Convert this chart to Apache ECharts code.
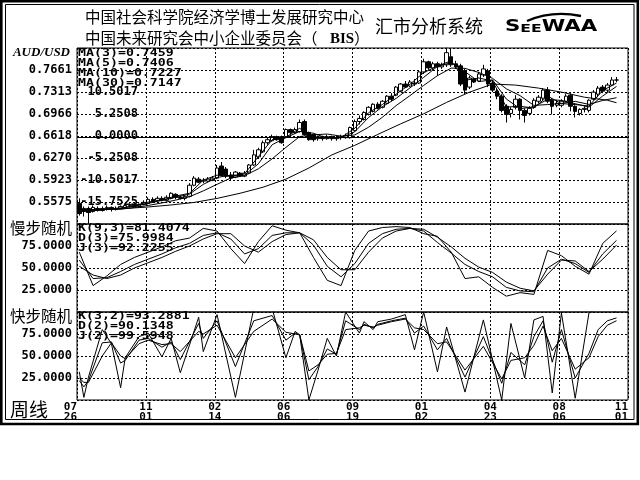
<!DOCTYPE html>
<html><head><meta charset="utf-8">
<script src="https://cdn.jsdelivr.net/npm/echarts@6/dist/echarts.min.js"></script>
<style>html,body{margin:0;padding:0;background:#fff}#c{width:640px;height:480px}</style>
</head><body><div id="c"></div>
<script>
// ---- tick labels ----
const dateLabels = ['07\n26','11\n01','02\n14','06\n06','09\n19','01\n02','04\n23','08\n06','11\n01'];
const priceTickLabels = ['0.5575','0.5923','0.6270','0.6618','0.6966','0.7313','0.7661'];
const pctTickLabels = ['-15.7525','-10.5017','-5.2508','0.0000','5.2508','10.5017'];
const refLevel = 0.6618;
const maTexts = ['MA(3)=0.7459','MA(5)=0.7406','MA(10)=0.7227','MA(30)=0.7147'];
const slowTexts = ['K(9,3)=81.4074','D(3)=75.9984','J(3)=92.2255'];
const fastTexts = ['K(3,2)=93.2881','D(2)=90.1348','J(2)=99.5948'];

// ---- weekly candles (AUD/USD) ----
const open = [.5553,.5424,.5473,.5424,.5473,.5440,.5473,.5489,.5456,.5473,
.5489,.5521,.5537,.5505,.5537,.5553,.5617,.5601,.5633,.5601,
.5633,.5697,.5649,.5633,.5665,.5841,.5937,.5905,.5905,.5921,
.5953,.6145,.6097,.6001,.5969,.6033,.5985,.6033,.6161,.6290,
.6370,.6514,.6546,.6610,.6610,.6610,.6722,.6674,.6690,.6850,
.6674,.6642,.6578,.6610,.6578,.6610,.6578,.6594,.6594,.6594,
.6706,.6850,.6882,.6962,.7010,.7123,.7075,.7139,.7251,.7267,
.7331,.7443,.7411,.7459,.7459,.7635,.7796,.7699,.7764,.7715,
.7748,.7876,.7764,.7731,.7651,.7395,.7523,.7491,.7587,.7651,
.7459,.7331,.7251,.7091,.6978,.7075,.7203,.7026,.6978,.7075,
.7171,.7219,.7347,.7187,.7107,.7107,.7171,.7267,.7091,.6978,
.7042,.7026,.7203,.7283,.7395,.7347,.7427,.7507];
const close = [.5392,.5473,.5408,.5489,.5440,.5473,.5489,.5456,.5473,.5505,
.5521,.5537,.5505,.5537,.5569,.5617,.5585,.5633,.5601,.5649,
.5713,.5649,.5633,.5665,.5841,.5953,.5889,.5921,.5937,.5953,
.6113,.6001,.5985,.5953,.6049,.5985,.6033,.6161,.6322,.6402,
.6514,.6562,.6610,.6562,.6514,.6722,.6674,.6722,.6834,.6642,
.6562,.6562,.6610,.6578,.6610,.6578,.6594,.6610,.6626,.6754,
.6850,.6898,.6994,.7075,.7123,.7058,.7171,.7251,.7203,.7395,
.7443,.7395,.7475,.7443,.7635,.7796,.7699,.7764,.7715,.7748,
.7940,.7748,.7715,.7443,.7347,.7539,.7475,.7603,.7683,.7443,
.7347,.7251,.7026,.6962,.7042,.7203,.7026,.6946,.7058,.7187,
.7235,.7347,.7171,.7091,.7139,.7171,.7251,.7091,.7010,.7042,
.7058,.7187,.7315,.7379,.7331,.7427,.7507,.7507];
const low = [.5360,.5344,.5232,.5408,.5424,.5424,.5440,.5424,.5440,.5456,
.5473,.5489,.5489,.5489,.5521,.5537,.5569,.5585,.5585,.5585,
.5617,.5617,.5617,.5601,.5649,.5825,.5873,.5873,.5889,.5905,
.5937,.5985,.5953,.5921,.5953,.5969,.5969,.6017,.6145,.6274,
.6354,.6482,.6530,.6546,.6498,.6594,.6642,.6658,.6674,.6626,
.6546,.6530,.6546,.6546,.6562,.6546,.6546,.6562,.6578,.6578,
.6690,.6802,.6866,.6946,.6994,.7042,.7058,.7123,.7171,.7251,
.7315,.7379,.7395,.7411,.7443,.7603,.7667,.7667,.7571,.7683,
.7715,.7715,.7683,.7411,.7283,.7363,.7459,.7475,.7555,.7395,
.7315,.7203,.6994,.6834,.6914,.7042,.6882,.6834,.6946,.7058,
.7139,.7187,.7139,.6962,.7075,.7075,.7155,.7010,.6914,.6946,
.6994,.6994,.7187,.7235,.7299,.7315,.7411,.7475];
const high = [.5633,.5505,.5505,.5521,.5505,.5505,.5521,.5505,.5505,.5521,
.5537,.5553,.5553,.5553,.5601,.5649,.5649,.5665,.5665,.5681,
.5729,.5713,.5681,.5681,.5873,.5985,.5969,.5953,.5969,.5985,
.6161,.6209,.6129,.6049,.6065,.6049,.6065,.6177,.6402,.6434,
.6546,.6594,.6642,.6626,.6626,.6738,.6738,.6754,.6882,.6882,
.6690,.6658,.6626,.6626,.6642,.6626,.6626,.6642,.6658,.6770,
.6882,.6946,.7010,.7091,.7139,.7155,.7187,.7267,.7299,.7411,
.7459,.7491,.7507,.7523,.7651,.7844,.7812,.7796,.7796,.7780,
.8020,.8004,.7812,.7764,.7683,.7571,.7539,.7635,.7748,.7683,
.7507,.7363,.7283,.7123,.7075,.7267,.7219,.7058,.7091,.7219,
.7267,.7379,.7395,.7219,.7187,.7203,.7283,.7299,.7107,.7058,
.7091,.7203,.7347,.7411,.7427,.7459,.7555,.7555];

// ---- moving averages (read every 3rd week; MA30 every 5th) ----
const idx3 = [0,3,6,9,12,15,18,21,24,27,30,33,36,39,42,45,48,51,54,57,60,63,66,69,72,75,78,81,84,87,90,93,96,99,102,105,108,111,114,117];
const ma3 = [.5424,.5456,.5467,.5477,.5520,.5573,.5605,.5669,.5713,.5921,.6001,.5980,.6022,.6294,.6562,.6599,.6743,.6589,.6599,.6594,.6743,.6990,.7118,.7283,.7438,.7624,.7727,.7812,.7502,.7539,.7491,.7079,.7091,.7063,.7251,.7134,.7118,.7095,.7342,.7459];
const ma5 = [.5424,.5440,.5459,.5479,.5507,.5553,.5601,.5649,.5700,.5854,.5963,.6001,.6001,.6180,.6482,.6594,.6693,.6664,.6584,.6594,.6687,.6914,.7084,.7216,.7382,.7549,.7722,.7783,.7639,.7482,.7510,.7206,.7052,.7084,.7200,.7184,.7132,.7078,.7254,.7406];
const ma10 = [.5456,.5456,.5456,.5460,.5488,.5520,.5560,.5605,.5658,.5751,.5855,.5955,.5993,.6100,.6259,.6440,.6611,.6640,.6651,.6618,.6637,.6759,.6916,.7102,.7259,.7421,.7576,.7696,.7691,.7627,.7534,.7368,.7259,.7105,.7118,.7137,.7169,.7121,.7183,.7227];
const idx5 = [0,5,10,15,20,25,30,35,40,45,50,55,60,65,70,75,80,85,90,95,100,105,110,115,117];
const ma30 = [.5440,.5456,.5472,.5496,.5528,.5568,.5632,.5713,.5809,.5937,.6113,.6321,.6472,.6645,.6813,.6972,.7153,.7315,.7443,.7427,.7379,.7315,.7235,.7187,.7147];

// ---- slow stochastic (every 3rd week) ----
const slowK = [59,38,39,46,54,60,66,73,78,87,90,83,66,72,87,90,90,76,52,40,55,78,89,94,95,92,79,67,54,46,40,28,24,23,50,60,55,45,66,81.4];
const slowD = [52,42,38,42,50,56,62,69,75,83,89,89,75,68,80,88,90,82,62,48,48,68,84,92,95,94,85,74,61,51,45,34,27,24,43,59,58,46,60,76.0];
const slowJ = [68,30,41,54,62,68,74,81,84,95,92,72,55,80,98,93,90,62,36,30,70,92,96,97,96,89,86,68,38,40,28,18,22,20,70,64,52,43,78,92.2];

// ---- fast stochastic (week, value) turning points ----
const fastK = [[0,22],[1,15],[2,22],[5,65],[7,66],[9,42],[10,45],[13,68],[15,70],[18,60],[20,66],[22,46],[26,87],[27,70],[30,90],[34,38],[38,90],[42,96],[45,68],[47,76],[48,74],[50,23],[52,38],[54,58],[56,52],[58,90],[61,80],[62,86],[64,82],[65,86],[68,90],[71,93],[73,76],[75,84],[78,57],[80,70],[84,26],[88,72],[92,19],[94,54],[97,40],[99,72],[101,90],[103,43],[105,80],[108,25],[111,53],[113,80],[115,90],[117,93.3]];
const fastD = [[0,25],[1,20],[2,20],[5,50],[7,65],[9,50],[10,47],[13,64],[15,68],[18,63],[20,64],[22,55],[26,78],[27,75],[30,85],[34,48],[38,78],[42,92],[45,77],[47,75],[48,74],[50,33],[52,40],[54,52],[56,53],[58,80],[61,82],[62,85],[64,83],[65,85],[68,89],[71,92],[73,82],[75,80],[78,64],[80,66],[84,34],[88,61],[92,24],[94,45],[97,48],[99,62],[101,84],[103,56],[105,70],[108,35],[111,48],[113,72],[115,85],[117,90.1]];
const fastJ = [[0,32],[1,3],[2,26],[5,80],[7,64],[9,14],[10,48],[13,72],[15,76],[18,49],[20,70],[22,31],[26,94],[27,55],[30,97],[34,3],[38,104],[42,104],[45,48],[47,78],[48,74],[50,0],[52,34],[54,70],[56,50],[58,100],[61,76],[62,89],[64,80],[65,89],[68,92],[71,97],[73,57],[75,100],[78,32],[80,83],[84,9],[88,91],[92,0],[94,87],[97,25],[99,91],[101,95],[103,8],[105,99],[108,2],[111,99],[113,104],[115,104],[117,99.6]];

// ---------------------------------------------------------
const STEP = 0.5575 / 16;          // price axis interval
const SLOTS = 120;                  // week slots on x axis
const MONO = '"DejaVu Sans Mono", monospace';
const CJK = '"Noto Sans CJK SC", sans-serif';
const dotted = {color:'#000', width:1, type:[2,2]};

const pos = i => i + 0.5;
const candleData = open.map((o,i)=>[pos(i), o, close[i], low[i], high[i]]);
const pairs = (ix, vals) => ix.map((i,k)=>[pos(i), vals[k]]);
const vpairs = arr => arr.map(p=>[pos(p[0]), p[1]]);

function lineSeries(name, data, xi, yi){
  return {name, type:'line', xAxisIndex:xi, yAxisIndex:yi, data, symbol:'none', showSymbol:false,
    lineStyle:{color:'#000', width:1}, silent:true, z:3};
}
function xAx(gi, showLabel){
  return {type:'value', gridIndex:gi, min:0, max:SLOTS, interval:15,
    axisLine:{show:false}, axisTick:{show:false},
    splitLine:{show:true, lineStyle:dotted},
    axisLabel:{show:showLabel, margin:2, fontFamily:MONO, fontWeight:'bold', fontSize:11, lineHeight:10, color:'#000',
      showMinLabel:true, showMaxLabel:true, alignMinLabel:'right', alignMaxLabel:'right',
      formatter:v=>dateLabels[Math.round(v/15)] || ''}};
}
function stochAx(gi){
  return {type:'value', gridIndex:gi, min:0, max:100, interval:25,
    axisLine:{show:false}, axisTick:{show:false}, splitLine:{show:true, lineStyle:dotted},
    axisLabel:{margin:5, fontFamily:MONO, fontWeight:'bold', fontSize:12, color:'#000',
      formatter:v=>(v>0 && v<100) ? v.toFixed(4) : ''}};
}
function txt(x, y, text, font, align, sx, sy){
  return {type:'text', silent:true, z:50, x, y, scaleX:sx||1, scaleY:sy||1,
    style:{x:0, y:0, text, font, fill:'#000', textAlign:align||'left', textVerticalAlign:'middle', align:align||'left', verticalAlign:'middle'}};
}

const graphics = [
  {type:'rect', silent:true, z:60, shape:{x:1.3, y:1.3, width:636.5, height:422.7}, style:{fill:'none', stroke:'#000', lineWidth:2.6}},
  {type:'rect', silent:true, z:60, shape:{x:5.5, y:4.5, width:628.5, height:415}, style:{fill:'none', stroke:'#000', lineWidth:1}},
  txt(85, 17, '中国社会科学院经济学博士发展研究中心', '15.5px '+CJK),
  txt(85, 38, '中国未来研究会中小企业委员会（', '15.5px '+CJK),
  txt(330, 39, 'BIS', 'bold 15px "Liberation Serif", serif'),
  txt(354, 38, '）', '15.5px '+CJK),
  txt(375, 26, '汇市分析系统', '18px '+CJK),
  {type:'bezierCurve', silent:true, z:50, shape:{x1:527, y1:21, cpx1:552, cpy1:10, x2:581, y2:16}, style:{fill:null, stroke:'#000', lineWidth:2.4}},
  {type:'group', x:505, y:35, scaleX:1.42, silent:true, z:50, children:[
    {type:'text', style:{x:0, y:0, text:'S', font:'bold 15px "DejaVu Sans", sans-serif', fill:'#000', verticalAlign:'bottom', textVerticalAlign:'bottom'}},
    {type:'text', style:{x:10.8, y:0, text:'EE', font:'bold 11px "DejaVu Sans", sans-serif', fill:'#000', verticalAlign:'bottom', textVerticalAlign:'bottom'}},
    {type:'text', style:{x:25.8, y:0, text:'WAA', font:'bold 15px "DejaVu Sans", sans-serif', fill:'#000', verticalAlign:'bottom', textVerticalAlign:'bottom'}}
  ]},
  txt(70, 53, 'AUD/USD', 'italic bold 13px "Liberation Serif", serif', 'right'),
  txt(10, 228, '慢步随机', '15.5px '+CJK),
  txt(10, 316.5, '快步随机', '15.5px '+CJK),
  txt(10, 410, '周线', '19px '+CJK)
];
maTexts.forEach((t,k)=>graphics.push(txt(78, 53+10*k, t, 'bold 13px '+MONO, 'left', 1.02, 0.8)));
slowTexts.forEach((t,k)=>graphics.push(txt(78, 228.5+10*k, t, 'bold 13px '+MONO, 'left', 1.02, 0.8)));
fastTexts.forEach((t,k)=>graphics.push(txt(78, 316.5+10*k, t, 'bold 13px '+MONO, 'left', 1.02, 0.8)));

const gridBase = {left:77, right:12, show:true, borderColor:'#000', borderWidth:1, backgroundColor:'transparent'};
const option = {
  backgroundColor:'#fff',
  animation:false,
  grid:[
    Object.assign({top:48, height:176}, gridBase),
    Object.assign({top:224, height:88}, gridBase),
    Object.assign({top:312, height:88}, gridBase)
  ],
  xAxis:[xAx(0,false), xAx(1,false), xAx(2,true)],
  yAxis:[
    {type:'value', gridIndex:0, min:15*STEP, max:23*STEP, interval:STEP, scale:false,
      axisLine:{show:false}, axisTick:{show:false}, splitLine:{show:true, lineStyle:dotted},
      axisLabel:{margin:5, fontFamily:MONO, fontWeight:'bold', fontSize:12, color:'#000',
        formatter:v=>{const k=Math.round(v/STEP)-16; return priceTickLabels[k] || '';}}},
    {type:'value', gridIndex:0, position:'left', min:15*STEP, max:23*STEP, interval:STEP,
      axisLine:{show:false}, axisTick:{show:false}, splitLine:{show:false},
      axisLabel:{inside:true, align:'right', margin:61, fontFamily:MONO, fontWeight:'bold', fontSize:12, color:'#000',
        formatter:v=>{const k=Math.round(v/STEP)-16; return pctTickLabels[k] || '';}}},
    stochAx(1),
    stochAx(2)
  ],
  series:[
    {type:'candlestick', xAxisIndex:0, yAxisIndex:0, data:candleData, encode:{x:0, y:[1,2,3,4]},
      barWidth:4, silent:true, z:2,
      itemStyle:{color:'#fff', color0:'#000', borderColor:'#000', borderColor0:'#000', borderWidth:1},
      markLine:{silent:true, symbol:'none', animation:false, label:{show:false},
        lineStyle:{color:'#000', type:'solid', width:1}, data:[{yAxis:refLevel}]}},
    lineSeries('MA3', pairs(idx3, ma3), 0, 0),
    lineSeries('MA5', pairs(idx3, ma5), 0, 0),
    lineSeries('MA10', pairs(idx3, ma10), 0, 0),
    lineSeries('MA30', pairs(idx5, ma30), 0, 0),
    lineSeries('K', pairs(idx3, slowK), 1, 2),
    lineSeries('D', pairs(idx3, slowD), 1, 2),
    lineSeries('J', pairs(idx3, slowJ), 1, 2),
    lineSeries('fK', vpairs(fastK), 2, 3),
    lineSeries('fD', vpairs(fastD), 2, 3),
    lineSeries('fJ', vpairs(fastJ), 2, 3)
  ],
  graphic:graphics
};
const chart = echarts.init(document.getElementById('c'), null, {renderer:'canvas'});
chart.setOption(option);
</script></body></html>
